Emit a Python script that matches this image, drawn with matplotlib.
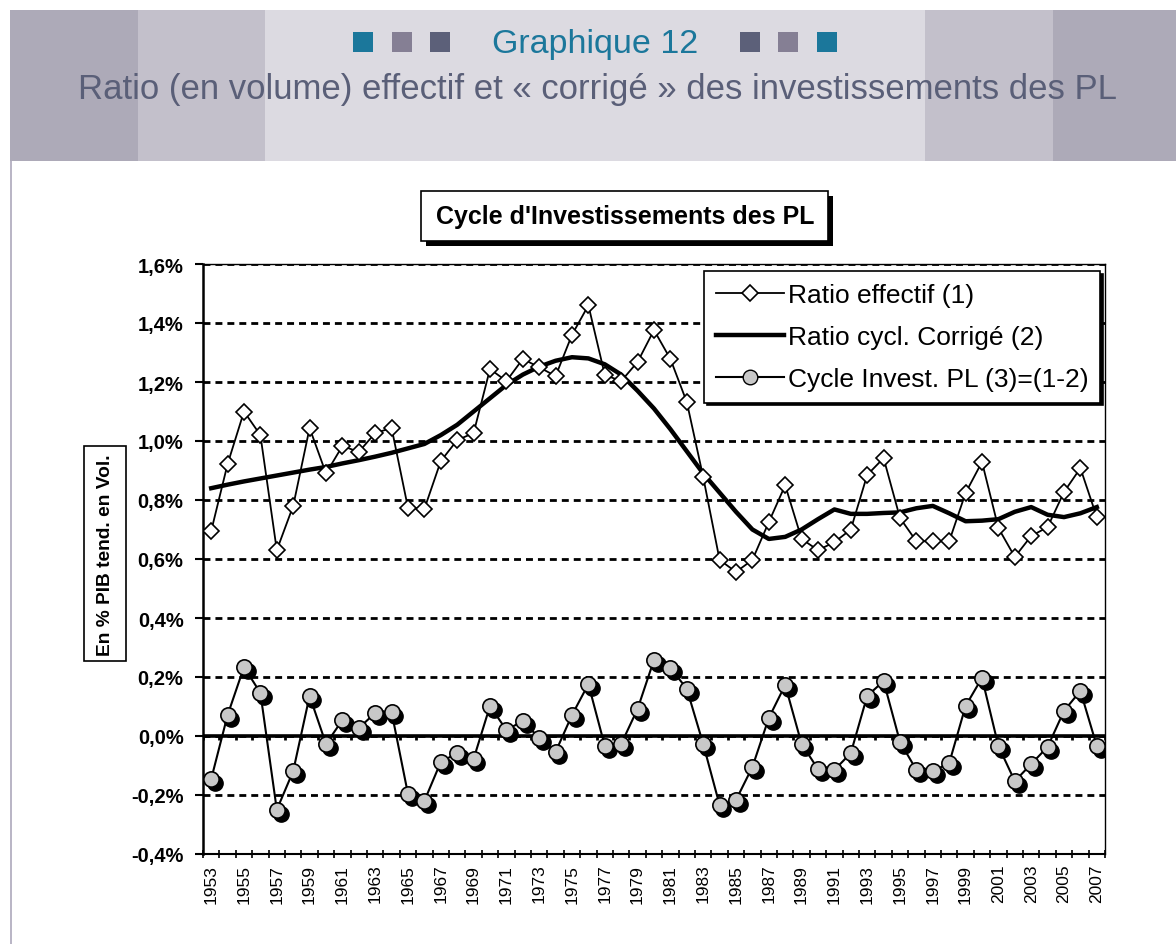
import numpy as np
import matplotlib.pyplot as plt
from matplotlib.patches import Rectangle
from matplotlib.lines import Line2D
from matplotlib.transforms import ScaledTranslation

# --- data (in % of trend GDP) ---
years = list(range(1953, 2008))

ratio_effectif = [0.695, 0.922, 1.100, 1.020, 0.630, 0.780, 1.044, 0.890, 0.983, 0.963,
                  1.027, 1.044, 0.773, 0.770, 0.932, 1.003, 1.027, 1.244, 1.203, 1.278,
                  1.250, 1.220, 1.360, 1.460, 1.224, 1.203, 1.268, 1.376, 1.278, 1.132,
                  0.878, 0.597, 0.556, 0.597, 0.725, 0.850, 0.668, 0.630, 0.657, 0.700,
                  0.885, 0.942, 0.739, 0.660, 0.660, 0.660, 0.824, 0.929, 0.705, 0.607,
                  0.678, 0.708, 0.827, 0.908, 0.742]

ratio_corrige = [0.840, 0.852, 0.863, 0.873, 0.883, 0.893, 0.903, 0.912, 0.924, 0.935,
                 0.947, 0.960, 0.975, 0.990, 1.020, 1.055, 1.100, 1.145, 1.190, 1.225,
                 1.252, 1.272, 1.284, 1.280, 1.260, 1.225, 1.170, 1.110, 1.040, 0.965,
                 0.890, 0.825, 0.760, 0.700, 0.668, 0.675, 0.700, 0.735, 0.768, 0.753,
                 0.753, 0.756, 0.758, 0.772, 0.780, 0.755, 0.728, 0.730, 0.735, 0.760,
                 0.776, 0.750, 0.742, 0.755, 0.776]

cycle_invest = [-0.146, 0.071, 0.234, 0.146, -0.250, -0.119, 0.136, -0.027, 0.054, 0.027,
                0.078, 0.081, -0.197, -0.220, -0.088, -0.058, -0.078, 0.102, 0.020, 0.051,
                -0.007, -0.054, 0.071, 0.176, -0.034, -0.027, 0.092, 0.258, 0.231, 0.160,
                -0.027, -0.234, -0.217, -0.105, 0.061, 0.173, -0.027, -0.112, -0.115, -0.058,
                0.136, 0.186, -0.020, -0.115, -0.119, -0.092, 0.102, 0.197, -0.034, -0.153,
                -0.095, -0.037, 0.085, 0.153, -0.034]

y_ticks = [-0.4, -0.2, 0.0, 0.2, 0.4, 0.6, 0.8, 1.0, 1.2, 1.4, 1.6]

labels = ['Ratio effectif (1)', 'Ratio cycl. Corrigé (2)', 'Cycle Invest. PL (3)=(1-2)']

# --- figure ---
W, H = 1176, 945
plt.rcParams['font.family'] = ['Liberation Sans', 'DejaVu Sans']
fig = plt.figure(figsize=(W / 100, H / 100), dpi=100)


def px_rect(x0, y0, x1, y1, **kw):
    # rectangle given in pixel coords (top-left origin)
    fig.patches.append(Rectangle((x0 / W, 1 - y1 / H), (x1 - x0) / W, (y1 - y0) / H,
                                 transform=fig.transFigure, **kw))


# header band with grey stripes
px_rect(10, 11, 1176, 162, facecolor='#adaab8', edgecolor='none')
px_rect(138, 11, 1053, 162, facecolor='#c3c0cb', edgecolor='none')
px_rect(265, 11, 925, 162, facecolor='#dcdae1', edgecolor='none')
px_rect(10, 162, 12, 945, facecolor='#bab6c6', edgecolor='none')

# little squares around the title
sq_colors = ['#1b779b', '#857f94', '#5c6079']
for x0, c in zip([353, 392, 430], sq_colors):
    px_rect(x0, 33, x0 + 20, 53, facecolor=c, edgecolor='none')
for x0, c in zip([740, 778, 817], sq_colors[::-1]):
    px_rect(x0, 33, x0 + 20, 53, facecolor=c, edgecolor='none')

fig.text(595 / W, 1 - 53 / H, 'Graphique 12', ha='center', va='baseline',
         fontsize=24.5, color='#1b779b')
fig.text(597 / W, 1 - 99 / H,
         'Ratio (en volume) effectif et « corrigé » des investissements des PL',
         ha='center', va='baseline', fontsize=25, color='#5a5f78')

# chart title box with shadow
px_rect(426, 197, 833, 247, facecolor='black', edgecolor='none')
px_rect(421, 192, 828, 242, facecolor='white', edgecolor='black', linewidth=1.2)
fig.text(625 / W, 1 - 217 / H, "Cycle d'Investissements des PL", ha='center',
         va='center', fontsize=18, fontweight='bold')

# y label box
px_rect(84, 447, 126, 662, facecolor='white', edgecolor='black', linewidth=1.2)
fig.text(105 / W, 1 - 555 / H, 'En % PIB tend. en Vol.', ha='center', va='center',
         rotation=90, fontsize=13.8, fontweight='bold')

# --- plot area ---
ax = fig.add_axes([203 / W, 1 - 855 / H, 902 / W, 590 / H])
x = np.arange(len(years))

ax.set_xlim(-0.5, len(years) - 0.5)
ax.set_ylim(-0.4, 1.6)

ax.set_yticks(y_ticks)
ax.set_yticklabels([f'{v:.1f}%'.replace('.', ',') for v in y_ticks],
                   fontsize=14.5, fontweight='bold')
ax.yaxis.grid(True, color='black', linestyle=(0, (2.5, 1.8)), linewidth=2)
ax.set_axisbelow(True)

ax.set_xticks(x[::2])
ax.set_xticklabels([str(y) for y in years[::2]], rotation=90, fontsize=12.5)
ax.set_xticks(np.arange(len(years) + 1) - 0.5, minor=True)
ax.tick_params(axis='x', which='major', length=0, pad=7)
ax.tick_params(axis='x', which='minor', direction='inout', length=6, width=1.2)
ax.tick_params(axis='y', length=6, width=1.5, pad=8)

for side in ['top', 'right']:
    ax.spines[side].set_linewidth(1)
ax.spines['left'].set_linewidth(1.8)
ax.spines['bottom'].set_linewidth(1.5)

# zero axis with category tick marks
ax.axhline(0, color='black', linewidth=2.6, zorder=2)
ax.vlines(np.arange(len(years) + 1) - 0.5, -0.013, 0, color='black', linewidth=2, zorder=2)

ax.plot(x, ratio_effectif, color='black', linewidth=1.3, marker='D', markersize=8,
        markerfacecolor='white', markeredgecolor='black', markeredgewidth=1.2,
        label=labels[0], zorder=4)
ax.plot(x, ratio_corrige, color='black', linewidth=3.2, label=labels[1], zorder=3)

# cycle series: grey balls with a black drop shadow
shadow = ax.transData + ScaledTranslation(2.8 / 72, -2.8 / 72, fig.dpi_scale_trans)
ax.plot(x, cycle_invest, color='black', linewidth=1.5, zorder=4)
ax.plot(x, cycle_invest, linestyle='none', marker='o', markersize=11,
        markerfacecolor='black', markeredgecolor='black', transform=shadow, zorder=5)
ax.plot(x, cycle_invest, linestyle='none', marker='o', markersize=11,
        markerfacecolor='#c8c8c8', markeredgecolor='black', markeredgewidth=1.2,
        zorder=6)

handles, _ = ax.get_legend_handles_labels()
handles.append(Line2D([], [], color='black', linewidth=1.5, marker='o', markersize=10.5,
                      markerfacecolor='#c8c8c8', markeredgecolor='black'))
leg = ax.legend(handles, labels, loc='upper right', bbox_to_anchor=(0.9945, 0.988),
                borderaxespad=0, fontsize=19, fancybox=False, framealpha=1,
                edgecolor='black', shadow={'color': 'black', 'alpha': 1},
                handlelength=2.6, labelspacing=0.68, borderpad=0.45, handletextpad=0.12)
leg.get_frame().set_linewidth(1.2)
leg.set_zorder(10)

fig.savefig('out.png', dpi=100, facecolor='white')
